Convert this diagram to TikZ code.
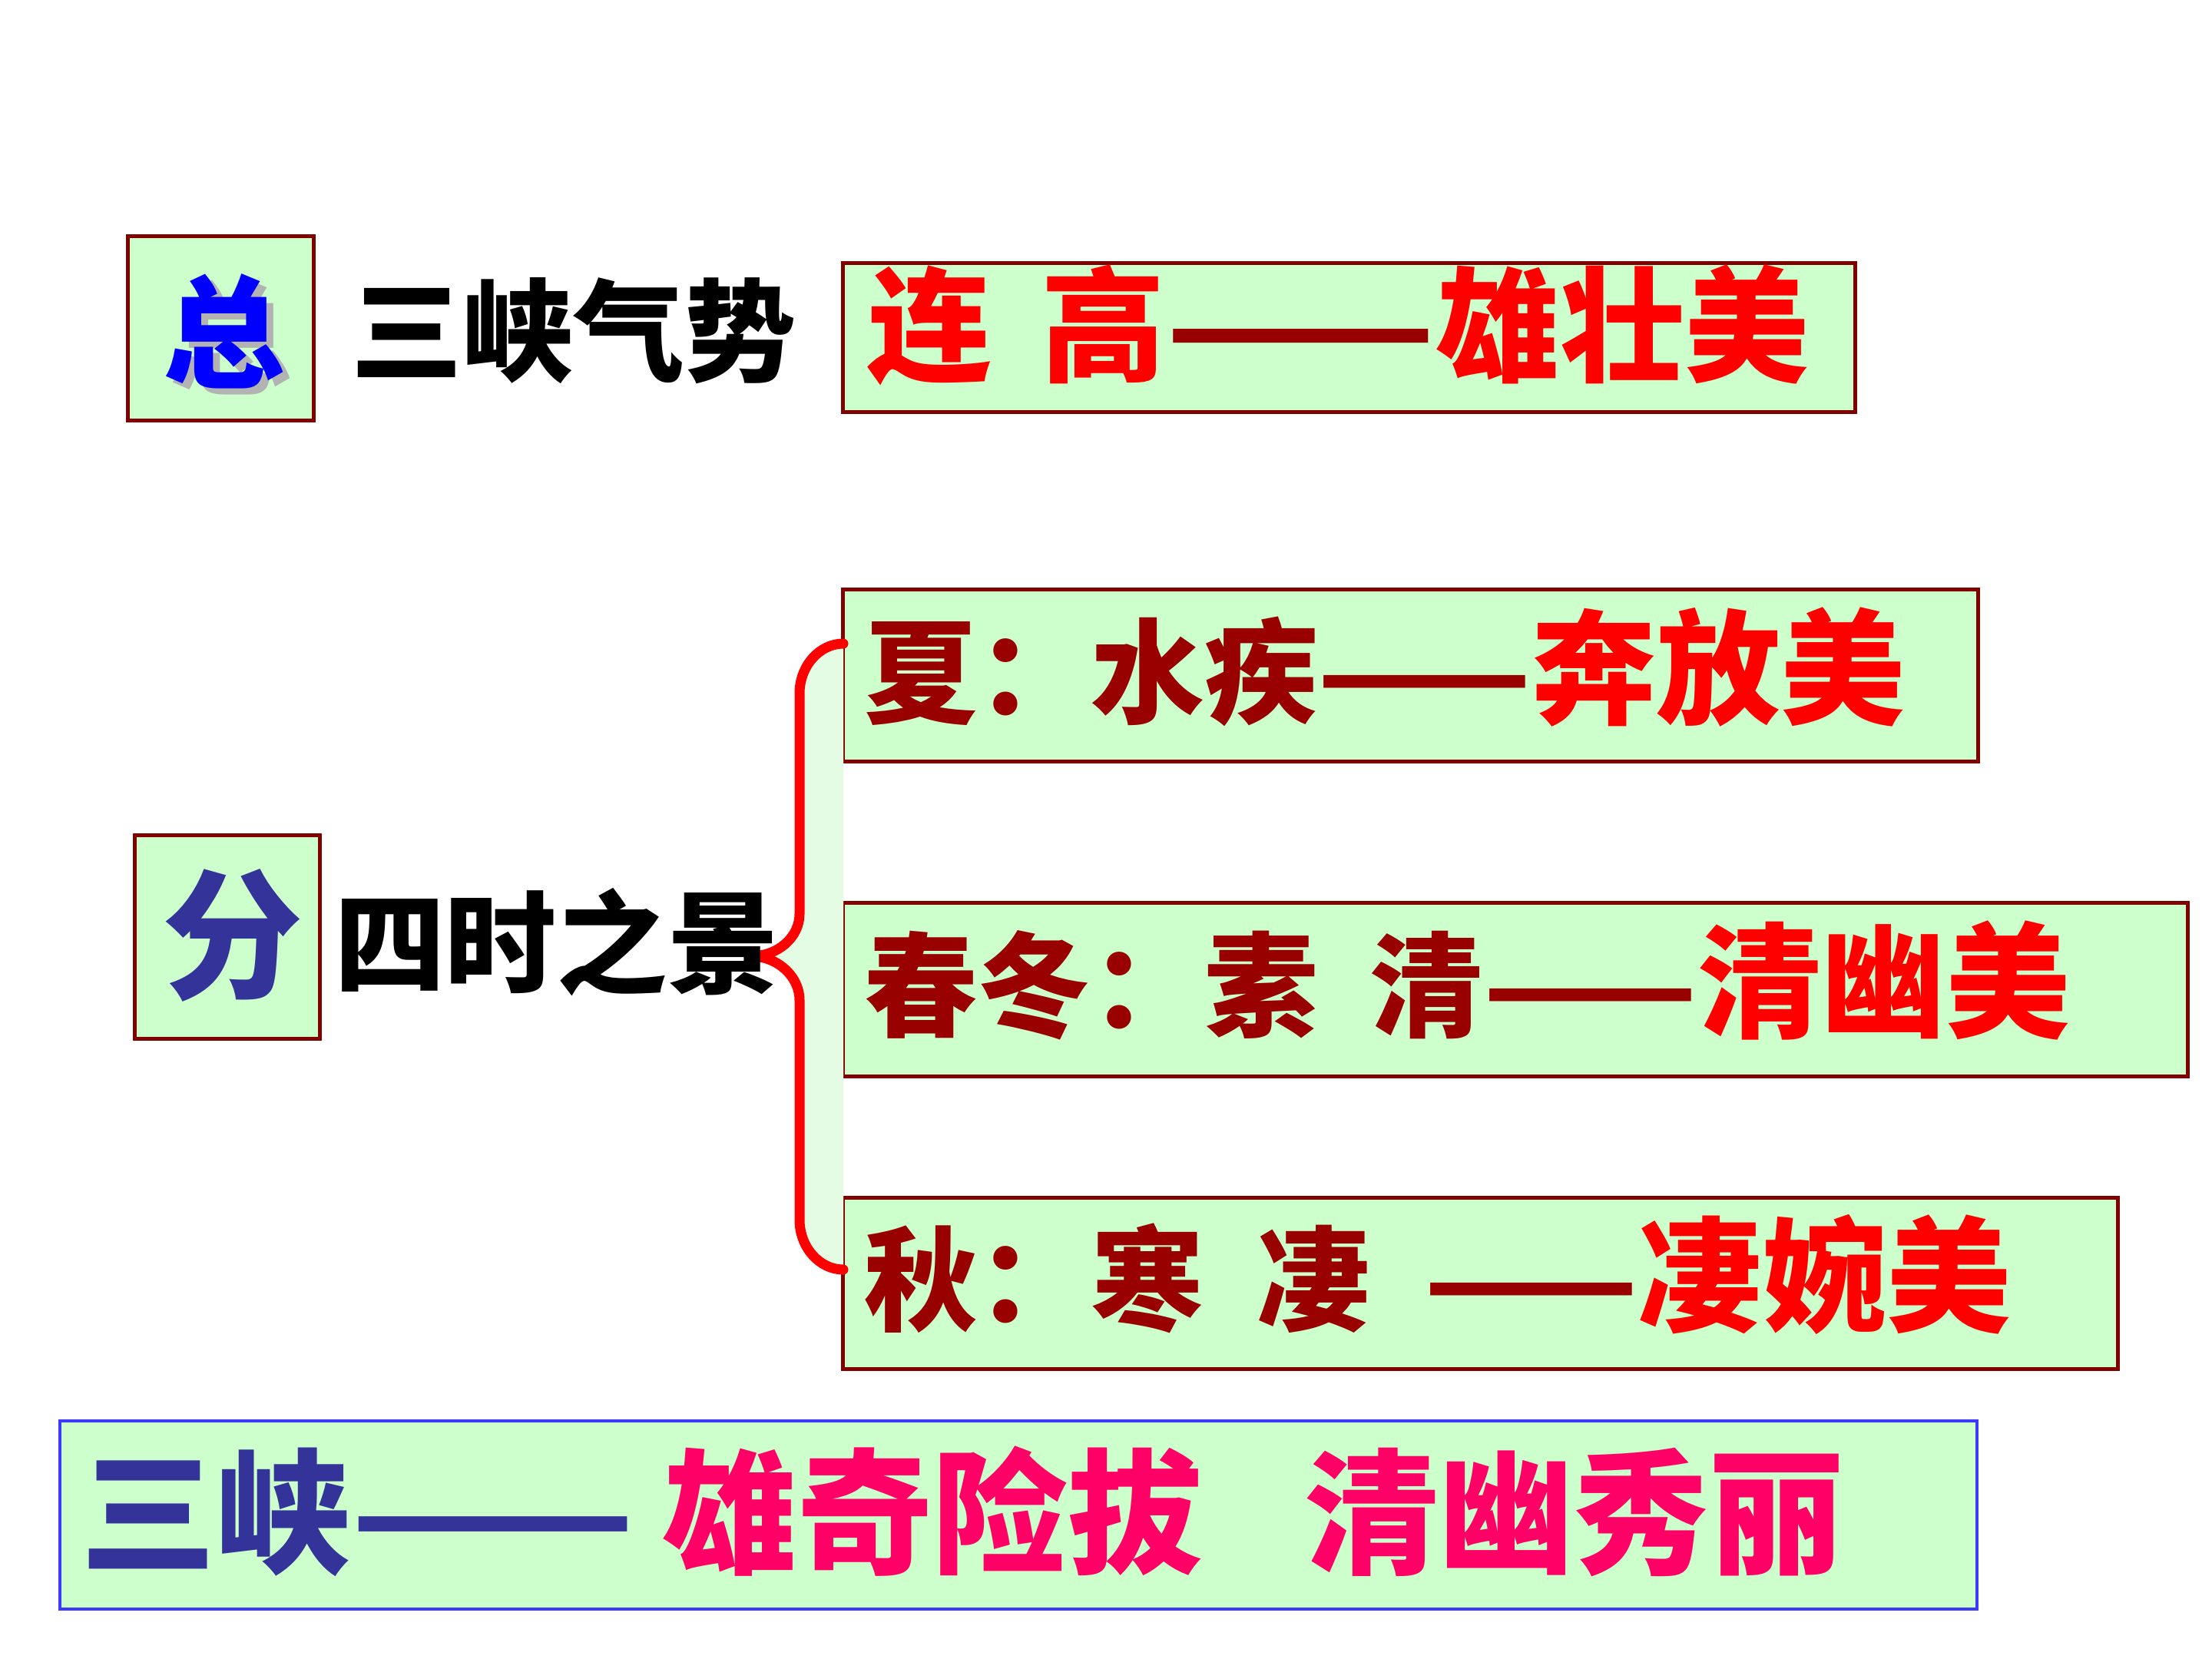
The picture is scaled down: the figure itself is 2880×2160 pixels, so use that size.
\documentclass[tikz,border=0pt]{standalone}
\usepackage{graphicx}
\usepackage{fontspec}
\newfontfamily\cjk{Noto Sans CJK SC}
\newcommand\myfs[1]{\fontsize{#1}{#1}\selectfont}
\newcommand\dashx[1]{\scalebox{#1}[1]{——}}
\definecolor{boxfill}{HTML}{CCFFCC}
\definecolor{boxline}{HTML}{800000}
\definecolor{bluebox}{HTML}{3A3AFF}
\definecolor{paleg}{HTML}{E4FCE4}
\definecolor{darkred}{HTML}{990000}
\definecolor{navy}{HTML}{333399}
\definecolor{pinkred}{HTML}{FF0066}
\definecolor{shadowgray}{HTML}{B3B3B3}
\definecolor{pureblue}{HTML}{0000FF}
\definecolor{bracered}{HTML}{FF0000}
\begin{document}
\begin{tikzpicture}[x=0.01cm,y=-0.01cm,
  box/.style={draw=boxline, fill=boxfill, line width=0.05cm, inner sep=0pt, outer sep=0pt},
  bluebx/.style={draw=bluebox, fill=boxfill, line width=0.04cm, inner sep=0pt, outer sep=0pt},
  txt/.style={inner sep=0pt, outer sep=0pt},
  bracestyle/.style={draw=bracered, line width=0.13cm, line cap=round, line join=round}
]
\useasboundingbox (0,0) rectangle (2880,2160);
\fill[white] (0,0) rectangle (2880,2160);

% boxes
\node[box, minimum width=2.41cm, minimum height=2.39cm] (zongbox) at (287.5,427.5) {};
\node[box, minimum width=13.17cm, minimum height=1.93cm] (lianbox) at (1756.5,439.5) {};
\node[box, minimum width=2.40cm, minimum height=2.64cm] (fenbox) at (296,1220) {};
\node[box, minimum width=14.77cm, minimum height=2.23cm] (xiabox) at (1836.5,879.5) {};
\node[box, minimum width=17.50cm, minimum height=2.25cm] (chunbox) at (1973,1288.5) {};
\node[box, minimum width=16.59cm, minimum height=2.22cm] (qiubox) at (1927.5,1671) {};
\node[bluebx, minimum width=24.94cm, minimum height=2.45cm] (sumbox) at (1326,1972.5) {};

% brace
\coordinate (btop) at (1098,838);
\coordinate (bbot) at (1098,1653);
\coordinate (btip) at (978,1245);
\fill[paleg] (btop) .. controls (1067,838) and (1041,867) .. (1041,903)
  -- (1041,1190) .. controls (1041,1220) and (1013,1245) .. (btip)
  .. controls (1013,1245) and (1041,1272) .. (1041,1302)
  -- (1041,1588) .. controls (1041,1624) and (1067,1653) .. (bbot) -- cycle;
\draw[bracestyle] (btop) .. controls (1067,838) and (1041,867) .. (1041,903)
  -- (1041,1190) .. controls (1041,1220) and (1013,1245) .. (btip)
  .. controls (1013,1245) and (1041,1272) .. (1041,1302)
  -- (1041,1588) .. controls (1041,1624) and (1067,1653) .. (bbot);

% texts
\node[txt, anchor=base, text=shadowgray, font=\cjk\bfseries\myfs{45}] (zongshadow) at (301,500) {总};
\node[txt, anchor=base, text=pureblue, font=\cjk\bfseries\myfs{45}] (zongtxt) at (292,492) {总};
\node[txt, anchor=base west, text=black, font=\cjk\bfseries\myfs{41.2}] (qishi) at (457,485) {三峡气势};
\node[txt, anchor=base west, font=\cjk\bfseries\myfs{46}] (liantxt) at (1129,484)
  {\textcolor{red}{连\hspace{0.4em}高}\textcolor{darkred}{\dashx{1.27}}\textcolor{red}{雄壮美}};

\node[txt, anchor=base, text=navy, font=\cjk\bfseries\myfs{52}] (fentxt) at (303,1286) {分};
\node[txt, anchor=base west, text=black, font=\cjk\bfseries\myfs{41.2}] (jing) at (435,1282) {四时之景};

\node[txt, anchor=base west, font=\cjk\bfseries\myfs{42}] (xiatxt) at (1125,930)
  {\textcolor{darkred}{夏：水疾\dashx{1.10}}\textcolor{red}{\myfs{46}奔放美}};
\node[txt, anchor=base west, font=\cjk\bfseries\myfs{42}] (chuntxt) at (1125,1338)
  {\textcolor{darkred}{春冬：素\hspace{0.46em}清\dashx{1.10}}\textcolor{red}{\myfs{46}清幽美}};
\node[txt, anchor=base west, font=\cjk\bfseries\myfs{42}] (qiutxt) at (1125,1721)
  {\textcolor{darkred}{秋：寒\hspace{0.47em}凄\hspace{0.47em}\dashx{1.10}}\textcolor{red}{\myfs{46}凄婉美}};

\node[txt, anchor=base west, font=\cjk\bfseries\myfs{50}] (sumtxt) at (105,2035)
  {\textcolor{navy}{三峡\dashx{1.23}}\hspace{0.2em}\textcolor{pinkred}{雄奇险拔\hspace{0.75em}清幽秀丽}};
\end{tikzpicture}
\end{document}
